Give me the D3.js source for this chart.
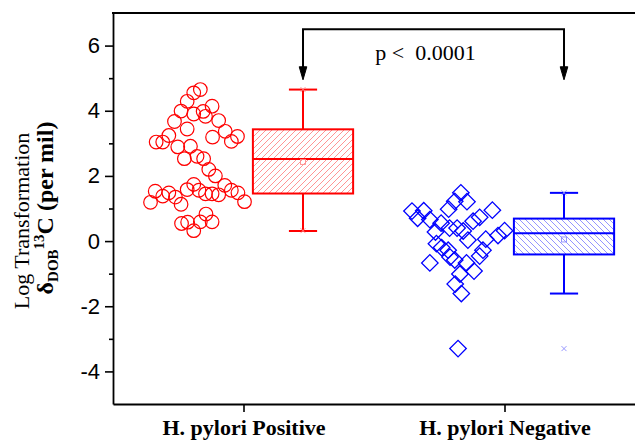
<!DOCTYPE html>
<html>
<head>
<meta charset="utf-8">
<script src="https://cdn.jsdelivr.net/npm/d3@7"></script>
<style>
  html, body { margin: 0; padding: 0; background: #fff; }
  svg { display: block; }
</style>
</head>
<body>
<svg id="chart" width="635" height="440"></svg>
<script>
// ---- data ----
const groups = ["H. pylori Positive", "H. pylori Negative"];

// individual log-transformed δDOB 13C values, with the horizontal spread (-1..1) of each point
const positiveValues = [4.65, 4.55, 4.29, 3.99, 3.67, 3.90, 3.98, 3.83, 4.14, 3.70,
  3.44, 3.37, 3.19, 3.06, 3.21, 3.24, 3.04, 3.04, 2.89, 2.91,
  2.53, 2.60, 2.53, 2.20, 2.00, 1.71, 1.56, 1.48, 1.21, 1.53,
  1.19, 1.38, 1.48, 1.35, 1.13, 1.58, 1.74, 1.56, 1.45, 1.45,
  1.42, 0.83, 0.59, 0.59, 0.58, 0.54, 0.32];
const positiveSpread = [0.07, -0.07, -0.21, -0.34, -0.48, -0.07, 0.13, 0.18, 0.32, 0.46,
  -0.21, 0.60, 0.33, 0.73, 0.86, -0.60, -0.73, -0.87, -0.41, -0.14,
  -0.27, 0.00, 0.14, 0.25, 0.39, 0.59, 0.73, 0.87, 1.01, -0.89,
  -0.99, -0.73, -0.60, -0.46, -0.34, -0.21, -0.07, 0.04, 0.18, 0.32,
  0.46, 0.19, 0.07, 0.32, -0.20, -0.33, -0.07];

const negativeValues = [1.48, 1.21, 1.22, 0.98, 0.95, 0.92, 0.93, 0.70, 0.66, 0.73,
  0.61, 0.55, 0.40, 0.40, 0.31, 0.28, 0.03, 0.32, 0.17, 0.06,
  -0.08, -0.20, -0.28, -0.28, -0.46, -0.67, -0.58, -0.67, -0.92, -1.01,
  -1.32, -1.61, -3.30, -0.49];
const negativeSpread = [0.06, 0.19, -0.07, -0.20, 0.73, -0.98, -0.73, -0.86, -0.60, 0.46,
  0.32, -0.36, -0.18, -0.02, 0.11, -0.48, 0.21, 0.99, 0.85, 0.59,
  -0.46, -0.35, -0.21, 0.53, 0.46, -0.60, -0.07, 0.18, 0.34, 0.04,
  -0.06, 0.07, 0.00, -0.17];

// box statistics per group
const boxQ1 = [1.46, -0.41];
const boxMedian = [2.52, 0.24];
const boxQ3 = [3.43, 0.69];
const whiskerLow = [0.31, -1.61];
const whiskerHigh = [4.65, 1.48];
const meanValues = [2.43, 0.05];
const minValues = [0.32, -3.30];
const maxValues = [4.65, 1.48];

const yMajorTicks = [-4, -2, 0, 2, 4, 6];
const yMinorTicks = [-3, -1, 1, 3, 5];
const pText = "p <  0.0001";

// ---- layout & style ----
const plotLeft = 113, plotRight = 635, plotTop = 13, plotBottom = 404;
const strokeColors = ["#ff0000", "#0000ff"];
const hatchColors = ["#ff7a7a", "#7a7aff"];
const markColors = ["#ff8c8c", "#8c8cff"];
const serif = "'Liberation Serif', 'Times New Roman', Times, serif";
const sans = "'Liberation Sans', Arial, Helvetica, sans-serif";

const svg = d3.select("#chart");

const y = d3.scaleLinear().domain([-5, 7]).range([plotBottom, plotTop]);
const x = d3.scaleLinear().domain([0.5, 2.5]).range([plotLeft, plotRight]);
const spread = d3.scaleLinear().domain([-1, 1]).range([-47, 47]);

const boxOffset = 0.228;     // box sits right of the category position
const pointOffset = -0.178;  // raw points sit left of it
const boxHalf = 0.192;
const capHalf = 0.054;

// hatch patterns
const defs = svg.append("defs");
[["hatch-pos", "M-1,1 L1,-1 M0,6 L6,0 M5,7 L7,5"],
 ["hatch-neg", "M-1,5 L1,7 M0,0 L6,6 M5,-1 L7,1"]].forEach(([id, d], i) => {
  defs.append("pattern")
    .attr("id", id)
    .attr("patternUnits", "userSpaceOnUse")
    .attr("width", 6).attr("height", 6)
    .append("path")
    .attr("d", d)
    .attr("stroke", hatchColors[i])
    .attr("stroke-width", 0.8)
    .attr("fill", "none");
});
const hatchIds = ["hatch-pos", "hatch-neg"];

// ---- box plots ----
groups.forEach((g, i) => {
  const cx = x(i + 1 + boxOffset);
  const x0 = x(i + 1 + boxOffset - boxHalf);
  const x1 = x(i + 1 + boxOffset + boxHalf);
  const c0 = x(i + 1 + boxOffset - capHalf);
  const c1 = x(i + 1 + boxOffset + capHalf);
  const col = strokeColors[i];
  const gb = svg.append("g").attr("class", "box");

  // whiskers
  gb.append("line").attr("x1", cx).attr("x2", cx)
    .attr("y1", y(boxQ3[i])).attr("y2", y(whiskerHigh[i]))
    .attr("stroke", col).attr("stroke-width", 2);
  gb.append("line").attr("x1", cx).attr("x2", cx)
    .attr("y1", y(boxQ1[i])).attr("y2", y(whiskerLow[i]))
    .attr("stroke", col).attr("stroke-width", 2);
  [whiskerHigh[i], whiskerLow[i]].forEach(v => {
    gb.append("line").attr("x1", c0).attr("x2", c1)
      .attr("y1", y(v)).attr("y2", y(v))
      .attr("stroke", col).attr("stroke-width", 2);
  });

  // box
  gb.append("rect")
    .attr("x", x0).attr("y", y(boxQ3[i]))
    .attr("width", x1 - x0).attr("height", y(boxQ1[i]) - y(boxQ3[i]))
    .attr("fill", `url(#${hatchIds[i]})`)
    .attr("stroke", col).attr("stroke-width", 2);
  gb.append("line").attr("x1", x0).attr("x2", x1)
    .attr("y1", y(boxMedian[i])).attr("y2", y(boxMedian[i]))
    .attr("stroke", col).attr("stroke-width", 2);

  // mean
  gb.append("rect")
    .attr("x", cx - 2.5).attr("y", y(meanValues[i]) - 2.5)
    .attr("width", 5).attr("height", 5)
    .attr("fill", "none").attr("stroke", markColors[i]).attr("stroke-width", 0.9);

  // min / max crosses
  [minValues[i], maxValues[i]].forEach(v => {
    const py = y(v);
    gb.append("path")
      .attr("d", `M${cx - 2.5},${py - 2.5}L${cx + 2.5},${py + 2.5}M${cx - 2.5},${py + 2.5}L${cx + 2.5},${py - 2.5}`)
      .attr("stroke", markColors[i]).attr("stroke-width", 0.9).attr("fill", "none");
  });
});

// ---- raw points ----
const posPoints = positiveValues.map((v, k) => ({ v, s: positiveSpread[k] }));
const negPoints = negativeValues.map((v, k) => ({ v, s: negativeSpread[k] }));

svg.append("g").selectAll("circle")
  .data(posPoints)
  .join("circle")
  .attr("cx", d => x(1 + pointOffset) + spread(d.s))
  .attr("cy", d => y(d.v))
  .attr("r", 6.8)
  .attr("fill", "none")
  .attr("stroke", strokeColors[0])
  .attr("stroke-width", 1.2);

const diamond = d3.symbol().type(d3.symbolSquare).size(136);
svg.append("g").selectAll("path")
  .data(negPoints)
  .join("path")
  .attr("d", diamond)
  .attr("transform", d => `translate(${x(2 + pointOffset) + spread(d.s)},${y(d.v)}) rotate(45)`)
  .attr("fill", "none")
  .attr("stroke", strokeColors[1])
  .attr("stroke-width", 1.3);

// ---- significance bracket ----
const bx0 = x(1 + boxOffset), bx1 = x(2 + boxOffset);
const by = y(6.5), tipY = y(4.95);
const br = svg.append("g").attr("class", "bracket");
br.append("path")
  .attr("d", `M${bx0},${tipY - 12}V${by}H${bx1}V${tipY - 12}`)
  .attr("fill", "none").attr("stroke", "#000").attr("stroke-width", 2);
[bx0, bx1].forEach(bx => {
  br.append("path")
    .attr("d", `M${bx - 3.8},${tipY - 13}L${bx + 3.8},${tipY - 13}L${bx},${tipY}Z`)
    .attr("fill", "#000").attr("stroke", "#000").attr("stroke-width", 1);
});
br.append("text")
  .attr("x", (bx0 + bx1) / 2 - 8)
  .attr("y", by + 31)
  .attr("text-anchor", "middle")
  .attr("font-family", serif)
  .attr("font-size", 22)
  .style("white-space", "pre")
  .text(pText);

// ---- axes ----
const yAxis = svg.append("g")
  .attr("transform", `translate(${plotLeft},0)`)
  .call(d3.axisLeft(y).tickValues(yMajorTicks).tickSize(8).tickSizeOuter(0)
    .tickPadding(5).tickFormat(d => String(d)));
yAxis.select(".domain").attr("stroke-width", 1.8);
yAxis.selectAll(".tick line").attr("stroke-width", 1.6);
yAxis.selectAll(".tick text").attr("font-family", sans).attr("font-size", 22).attr("fill", "#000");

const yMinor = svg.append("g")
  .attr("transform", `translate(${plotLeft},0)`)
  .call(d3.axisLeft(y).tickValues(yMinorTicks).tickSize(4).tickSizeOuter(0).tickFormat(""));
yMinor.select(".domain").remove();
yMinor.selectAll(".tick line").attr("stroke-width", 1.6);

const xAxis = svg.append("g")
  .attr("transform", `translate(0,${plotBottom})`)
  .call(d3.axisBottom(x).tickValues([1, 2]).tickSize(8).tickSizeOuter(0)
    .tickPadding(7).tickFormat(d => groups[d - 1]));
xAxis.select(".domain").attr("stroke-width", 1.8);
xAxis.selectAll(".tick line").attr("stroke-width", 1.6);
xAxis.selectAll(".tick text")
  .attr("font-family", serif).attr("font-size", 22).attr("font-weight", "bold").attr("fill", "#000");

// top frame line
svg.append("line")
  .attr("x1", plotLeft - 1).attr("x2", plotRight)
  .attr("y1", plotTop).attr("y2", plotTop)
  .attr("stroke", "#000").attr("stroke-width", 1.8);

// ---- y-axis title ----
svg.append("text")
  .attr("transform", "translate(29,221) rotate(-90)")
  .attr("text-anchor", "middle")
  .attr("font-family", serif)
  .attr("font-size", 22)
  .text("Log Transformation");

const t2 = svg.append("text")
  .attr("transform", "translate(53,208) rotate(-90)")
  .attr("text-anchor", "middle")
  .attr("font-family", serif)
  .attr("font-size", 24)
  .attr("font-weight", "bold");
t2.append("tspan").text("δ");
t2.append("tspan").attr("font-size", 15).attr("dy", 5).text("DOB");
t2.append("tspan").attr("font-size", 15).attr("dy", -14).text("13");
t2.append("tspan").attr("dy", 9).text("C (per mil)");
</script>
</body>
</html>
